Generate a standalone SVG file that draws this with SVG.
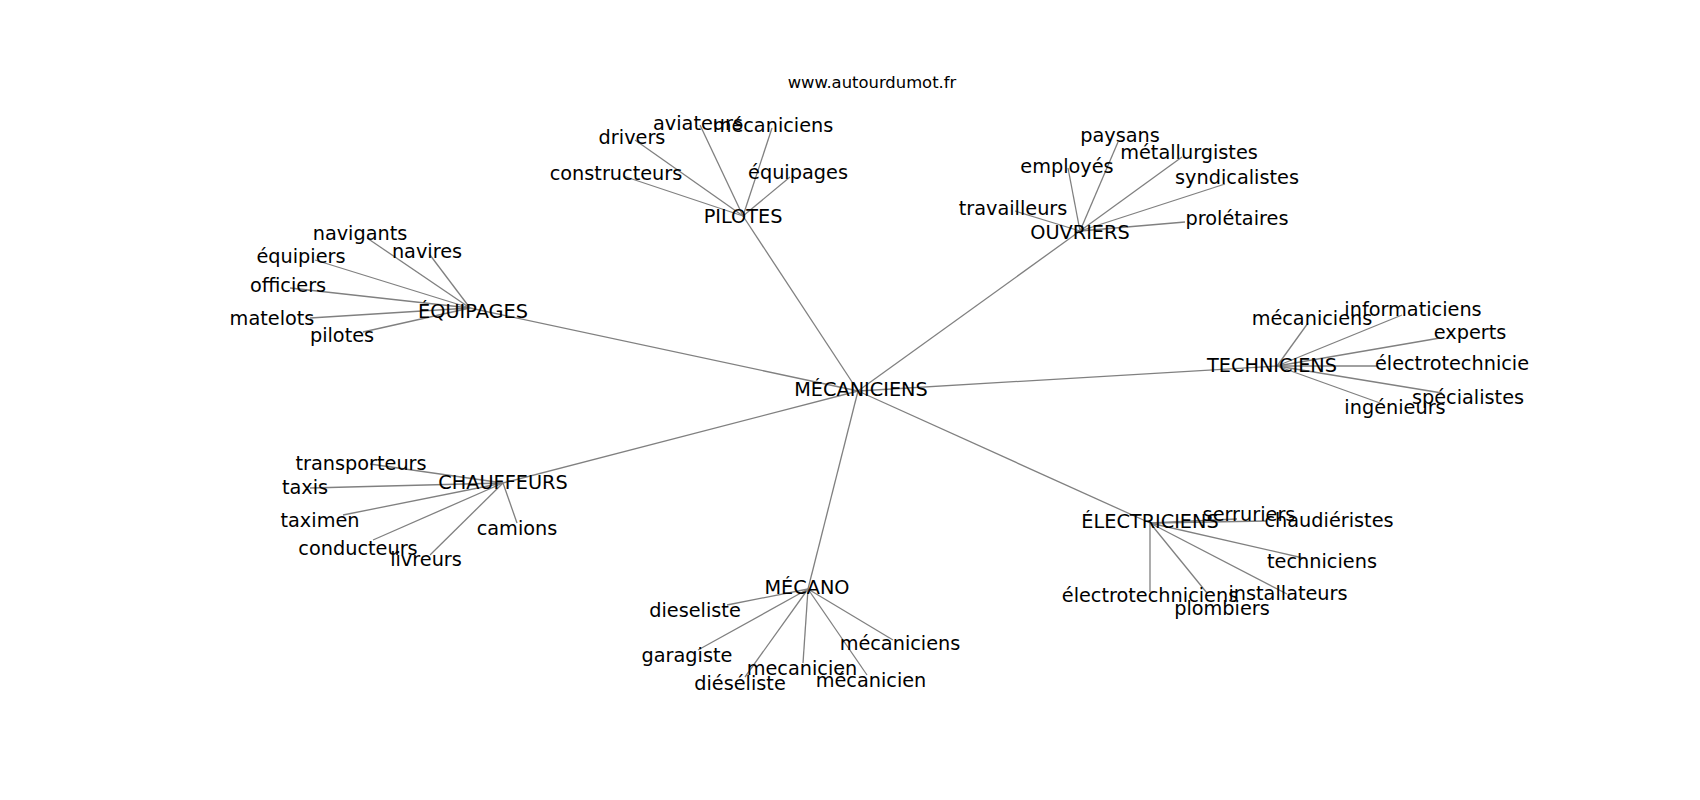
<svg xmlns="http://www.w3.org/2000/svg" width="1700" height="800" viewBox="0 0 1700 800">
<style>
text{font-family:"DejaVu Sans","Liberation Sans",sans-serif;font-size:19.3px;fill:#000;text-anchor:middle}
.t{font-size:16.4px}
#edges line{stroke:#808080;stroke-width:1.3;fill:none}
</style>
<rect width="1700" height="800" fill="#fff"/>
<g id="edges">
<line x1="858" y1="391" x2="743" y2="216"/>
<line x1="858" y1="391" x2="1080" y2="231"/>
<line x1="858" y1="391" x2="470" y2="308"/>
<line x1="858" y1="391" x2="1277" y2="366"/>
<line x1="858" y1="391" x2="503" y2="483"/>
<line x1="858" y1="391" x2="808" y2="589"/>
<line x1="858" y1="391" x2="1150" y2="523"/>
<line x1="743" y1="216" x2="635" y2="140"/>
<line x1="743" y1="216" x2="700" y2="125"/>
<line x1="743" y1="216" x2="772" y2="128"/>
<line x1="743" y1="216" x2="623" y2="176"/>
<line x1="743" y1="216" x2="790" y2="177"/>
<line x1="470" y1="308" x2="367" y2="238"/>
<line x1="470" y1="308" x2="430" y2="255"/>
<line x1="470" y1="308" x2="315" y2="260"/>
<line x1="470" y1="308" x2="290" y2="288"/>
<line x1="470" y1="308" x2="310" y2="318"/>
<line x1="470" y1="308" x2="363" y2="332"/>
<line x1="1080" y1="231" x2="1118" y2="142"/>
<line x1="1080" y1="231" x2="1068" y2="168"/>
<line x1="1080" y1="231" x2="1015" y2="211"/>
<line x1="1080" y1="231" x2="1182" y2="157"/>
<line x1="1080" y1="231" x2="1225" y2="184"/>
<line x1="1080" y1="231" x2="1185" y2="222"/>
<line x1="1277" y1="366" x2="1308" y2="323"/>
<line x1="1277" y1="366" x2="1402" y2="315"/>
<line x1="1277" y1="366" x2="1440" y2="338"/>
<line x1="1277" y1="366" x2="1377" y2="366"/>
<line x1="1277" y1="366" x2="1442" y2="393"/>
<line x1="1277" y1="366" x2="1380" y2="403"/>
<line x1="503" y1="483" x2="370" y2="464"/>
<line x1="503" y1="483" x2="310" y2="488"/>
<line x1="503" y1="483" x2="343" y2="515"/>
<line x1="503" y1="483" x2="373" y2="540"/>
<line x1="503" y1="483" x2="430" y2="555"/>
<line x1="503" y1="483" x2="517" y2="523"/>
<line x1="808" y1="589" x2="727" y2="605"/>
<line x1="808" y1="589" x2="698" y2="650"/>
<line x1="808" y1="589" x2="745" y2="677"/>
<line x1="808" y1="589" x2="803" y2="663"/>
<line x1="808" y1="589" x2="867" y2="675"/>
<line x1="808" y1="589" x2="893" y2="640"/>
<line x1="1150" y1="523" x2="1237" y2="519"/>
<line x1="1150" y1="523" x2="1267" y2="521"/>
<line x1="1150" y1="523" x2="1303" y2="558"/>
<line x1="1150" y1="523" x2="1150" y2="592"/>
<line x1="1150" y1="523" x2="1207" y2="593"/>
<line x1="1150" y1="523" x2="1287" y2="594"/>
</g>
<text class="t" x="872" y="88">www.autourdumot.fr</text>
<g id="n-mecaniciens"><text x="861" y="396">MÉCANICIENS</text></g>
<g id="n-pilotes"><text x="743" y="223">PILOTES</text></g>
<g id="n-pilotes-drivers"><text x="632" y="144">drivers</text></g>
<g id="n-pilotes-aviateurs"><text x="698" y="130">aviateurs</text></g>
<g id="n-pilotes-mecaniciens"><text x="773" y="132">mécaniciens</text></g>
<g id="n-pilotes-constructeurs"><text x="616" y="180">constructeurs</text></g>
<g id="n-pilotes-equipages"><text x="798" y="179">équipages</text></g>
<g id="n-equipages"><text x="473" y="318">ÉQUIPAGES</text></g>
<g id="n-equipages-navigants"><text x="360" y="240">navigants</text></g>
<g id="n-equipages-navires"><text x="427" y="258">navires</text></g>
<g id="n-equipages-equipiers"><text x="301" y="263">équipiers</text></g>
<g id="n-equipages-officiers"><text x="288" y="292">officiers</text></g>
<g id="n-equipages-matelots"><text x="272" y="325">matelots</text></g>
<g id="n-equipages-pilotes"><text x="342" y="342">pilotes</text></g>
<g id="n-ouvriers"><text x="1080" y="239">OUVRIERS</text></g>
<g id="n-ouvriers-paysans"><text x="1120" y="142">paysans</text></g>
<g id="n-ouvriers-employes"><text x="1067" y="173">employés</text></g>
<g id="n-ouvriers-travailleurs"><text x="1013" y="215">travailleurs</text></g>
<g id="n-ouvriers-metallurgistes"><text x="1189" y="159">métallurgistes</text></g>
<g id="n-ouvriers-syndicalistes"><text x="1237" y="184">syndicalistes</text></g>
<g id="n-ouvriers-proletaires"><text x="1237" y="225">prolétaires</text></g>
<g id="n-techniciens"><text x="1272" y="372">TECHNICIENS</text></g>
<g id="n-techniciens-mecaniciens"><text x="1312" y="325">mécaniciens</text></g>
<g id="n-techniciens-informaticiens"><text x="1413" y="316">informaticiens</text></g>
<g id="n-techniciens-experts"><text x="1470" y="339">experts</text></g>
<g id="n-techniciens-electrotechnicie"><text x="1452" y="370">électrotechnicie</text></g>
<g id="n-techniciens-specialistes"><text x="1468" y="404">spécialistes</text></g>
<g id="n-techniciens-ingenieurs"><text x="1395" y="414">ingénieurs</text></g>
<g id="n-chauffeurs"><text x="503" y="489">CHAUFFEURS</text></g>
<g id="n-chauffeurs-transporteurs"><text x="361" y="470">transporteurs</text></g>
<g id="n-chauffeurs-taxis"><text x="305" y="494">taxis</text></g>
<g id="n-chauffeurs-taximen"><text x="320" y="527">taximen</text></g>
<g id="n-chauffeurs-conducteurs"><text x="358" y="555">conducteurs</text></g>
<g id="n-chauffeurs-livreurs"><text x="426" y="566">livreurs</text></g>
<g id="n-chauffeurs-camions"><text x="517" y="535">camions</text></g>
<g id="n-mecano"><text x="807" y="594">MÉCANO</text></g>
<g id="n-mecano-dieseliste"><text x="695" y="617">dieseliste</text></g>
<g id="n-mecano-garagiste"><text x="687" y="662">garagiste</text></g>
<g id="n-mecano-dieseliste2"><text x="740" y="690">diéséliste</text></g>
<g id="n-mecano-mecanicien"><text x="802" y="675">mecanicien</text></g>
<g id="n-mecano-mecanicien2"><text x="871" y="687">mécanicien</text></g>
<g id="n-mecano-mecaniciens"><text x="900" y="650">mécaniciens</text></g>
<g id="n-electriciens"><text x="1150" y="528">ÉLECTRICIENS</text></g>
<g id="n-electriciens-serruriers"><text x="1249" y="521">serruriers</text></g>
<g id="n-electriciens-chaudieristes"><text x="1329" y="527">chaudiéristes</text></g>
<g id="n-electriciens-techniciens"><text x="1322" y="568">techniciens</text></g>
<g id="n-electriciens-electrotechniciens"><text x="1150" y="602">électrotechniciens</text></g>
<g id="n-electriciens-plombiers"><text x="1222" y="615">plombiers</text></g>
<g id="n-electriciens-installateurs"><text x="1288" y="600">installateurs</text></g>
</svg>
